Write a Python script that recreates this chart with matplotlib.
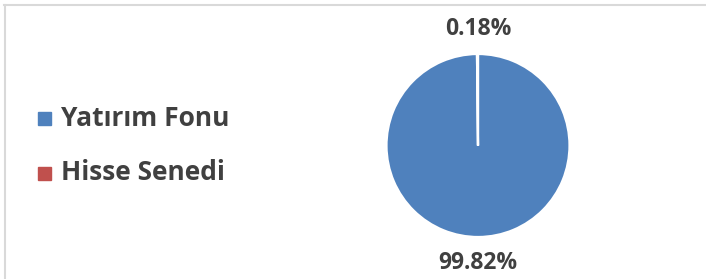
import matplotlib.pyplot as plt
from matplotlib.patches import Rectangle
from matplotlib.lines import Line2D

labels = ['Yatırım Fonu', 'Hisse Senedi']
values = [99.82, 0.18]
colors = ['#4F81BD', '#C0504D']
pct_labels = ['99.82%', '0.18%']

W, H = 706, 279
fig = plt.figure(figsize=(W / 100, H / 100), dpi=100)
font = dict(family=['Open Sans', 'DejaVu Sans'], weight='bold', color='#404040')

# pie area
cx, cy, r = 478, H - 145.5, 91.5
ax = fig.add_axes([(cx - r) / W, (cy - r) / H, 2 * r / W, 2 * r / H])
ax.pie(values, colors=colors, startangle=90, counterclock=False,
       wedgeprops=dict(edgecolor='white', linewidth=1.6))
ax.set_xlim(-1, 1)
ax.set_ylim(-1, 1)
ax.set_aspect('equal')
ax.set_axis_off()

# data labels (outside end)
ax.text(0, -1.28, pct_labels[0], ha='center', va='center', fontsize=16.5, **font)
ax.text(0, 1.27, pct_labels[1], ha='center', va='center', fontsize=16.5, **font)

# legend
for i, (lab, col) in enumerate(zip(labels, colors)):
    y = H - (118.5 + i * 54.5)
    fig.add_artist(Rectangle((38 / W, (y - 6.5) / H), 13 / W, 13 / H,
                             transform=fig.transFigure, color=col))
    fig.text(61 / W, y / H, lab, ha='left', va='center', fontsize=19, **font)

# chart border (top and left visible)
fig.add_artist(Line2D([4 / W, 1], [(H - 5) / H] * 2, transform=fig.transFigure,
                      color='#D9D9D9', linewidth=1.5))
fig.add_artist(Line2D([4.5 / W] * 2, [0, (H - 5) / H], transform=fig.transFigure,
                      color='#D9D9D9', linewidth=1.5))

fig.savefig('out.png', dpi=100, facecolor='white')
